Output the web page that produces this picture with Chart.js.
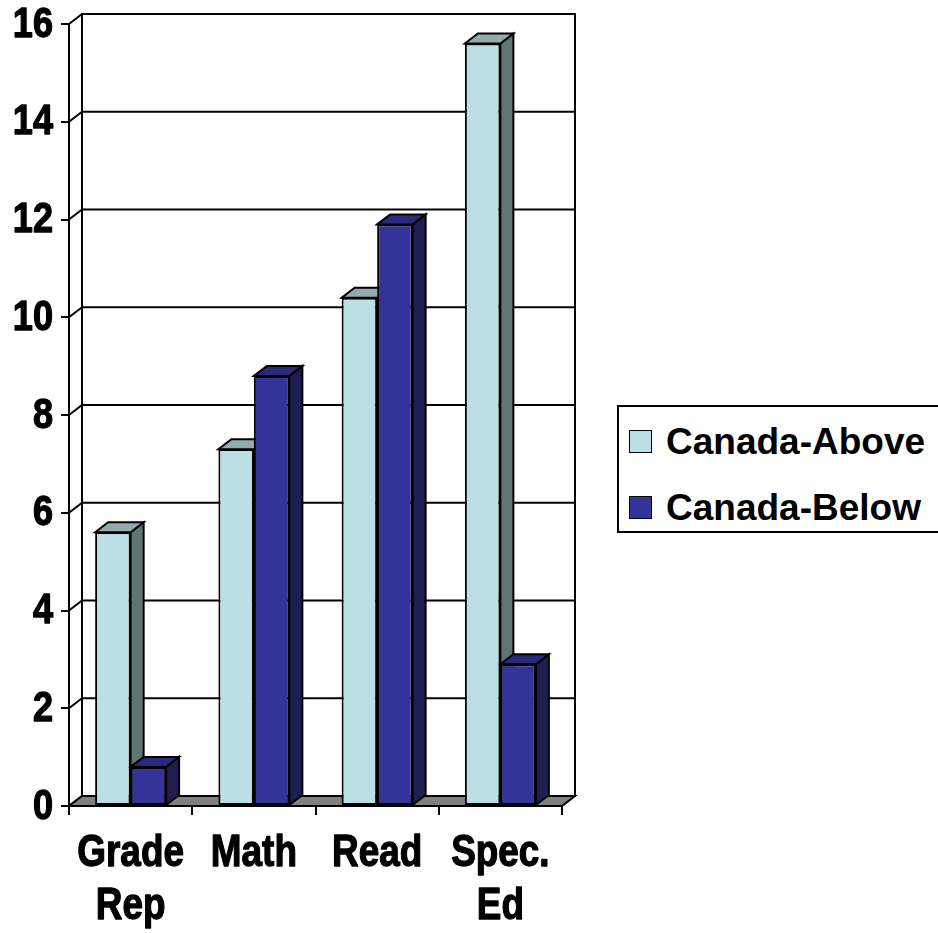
<!DOCTYPE html>
<html>
<head>
<meta charset="utf-8">
<script src="https://cdn.jsdelivr.net/npm/chart.js@4"></script>
<style>
  html, body { margin: 0; padding: 0; background: #fff; overflow: hidden; }
  #wrap { position: relative; width: 938px; height: 933px; }
  #legend { position: absolute; left: 617px; top: 405px; width: 340px; height: 128px;
            border: 2px solid #000; box-sizing: border-box; background: #fff;
            font: bold 37px "Liberation Sans", Arial, sans-serif; color: #000; }
  .item { position: absolute; left: 10px; height: 40px; line-height: 40px; white-space: nowrap; }
  .sw { position: absolute; left: 0; top: 8px; width: 21px; height: 21px; border: 1.5px solid #000; }
  .lt { position: absolute; left: 37px; top: 0; }
</style>
</head>
<body>
<div id="wrap">
  <canvas id="c" width="938" height="933"></canvas>
  <div id="legend"></div>
</div>
<script>
// ---- data ----
const categories = [['Grade', 'Rep'], 'Math', 'Read', ['Spec.', 'Ed']];
const seriesNames = ['Canada-Above', 'Canada-Below'];
const canadaAbove = [5.6, 7.3, 10.4, 15.6];
const canadaBelow = [0.8, 8.8, 11.9, 2.9];
const yTicks = [0, 2, 4, 6, 8, 10, 12, 14, 16];

// ---- styles ----
const frontColors = ['#BBE0E3', '#333399'];
const faceColors = [{ top: '#92ABAE', side: '#5F7475' }, { top: '#2A2A7C', side: '#1E1E50' }];
const depth = { dx: 13, dy: -10 };
const fontFam = '"Liberation Sans", Arial, sans-serif';
const yLabelStyle = { size: 42, squeeze: 0.86, gap: 16 };
const xLabelStyle = { size: 45, squeeze: 0.82, lineHeight: 53, gap: 21 };

function poly(ctx, pts, fill) {
  ctx.beginPath();
  ctx.moveTo(pts[0][0], pts[0][1]);
  for (let i = 1; i < pts.length; i++) ctx.lineTo(pts[i][0], pts[i][1]);
  ctx.closePath();
  if (fill) { ctx.fillStyle = fill; ctx.fill(); }
  ctx.stroke();
}
function line(ctx, x1, y1, x2, y2) {
  ctx.beginPath(); ctx.moveTo(x1, y1); ctx.lineTo(x2, y2); ctx.stroke();
}
function squeezedText(ctx, text, x, y, k) {
  ctx.save();
  ctx.translate(x, y);
  ctx.scale(k, 1);
  ctx.fillText(text, 0, 0);
  ctx.strokeText(text, 0, 0);
  ctx.restore();
}

const threeD = {
  id: 'threeD',
  beforeDatasetsDraw(chart) {
    const { ctx, chartArea: a } = chart;
    const ys = chart.scales.y;
    const { dx, dy } = depth;
    ctx.save();
    ctx.lineWidth = 2;
    ctx.strokeStyle = '#000';
    // back wall
    ctx.fillStyle = '#fff';
    ctx.fillRect(a.left + dx, a.top + dy, a.right - a.left, a.bottom - a.top);
    ctx.strokeRect(a.left + dx, a.top + dy, a.right - a.left, a.bottom - a.top);
    // gridlines on back wall + side wall diagonals
    ys.ticks.forEach(t => {
      const py = ys.getPixelForValue(t.value);
      line(ctx, a.left + dx, py + dy, a.right + dx, py + dy);
      line(ctx, a.left, py, a.left + dx, py + dy);
    });
    // floor
    poly(ctx, [[a.left, a.bottom], [a.right, a.bottom], [a.right + dx, a.bottom + dy], [a.left + dx, a.bottom + dy]], '#808080');
    // bar side and top faces
    const metas = chart.getSortedVisibleDatasetMetas();
    const n = chart.data.labels.length;
    for (let i = 0; i < n; i++) {
      metas.forEach(m => {
        const el = m.data[i];
        if (!el) return;
        const p = el.getProps(['x', 'y', 'base', 'width'], true);
        const l = p.x - p.width / 2, r = p.x + p.width / 2, t = p.y, b = p.base;
        const fc = faceColors[m.index];
        poly(ctx, [[r, t], [r + dx, t + dy], [r + dx, b + dy], [r, b]], fc.side);
        poly(ctx, [[l, t], [l + dx, t + dy], [r + dx, t + dy], [r, t]], fc.top);
      });
    }
    ctx.restore();
  }
};

// axis labels: drawn at the scales' own tick positions, slightly condensed
const axisLabels = {
  id: 'axisLabels',
  afterDraw(chart) {
    const { ctx } = chart;
    const xs = chart.scales.x, ys = chart.scales.y;
    ctx.save();
    ctx.fillStyle = '#000';
    ctx.strokeStyle = '#000';
    ctx.lineWidth = 1.3;
    ctx.lineJoin = 'round';
    ctx.textBaseline = 'middle';
    ctx.font = 'bold ' + yLabelStyle.size + 'px ' + fontFam;
    ctx.textAlign = 'right';
    ys.ticks.forEach(t => {
      squeezedText(ctx, String(t.value), ys.right - yLabelStyle.gap, ys.getPixelForValue(t.value) + 1, yLabelStyle.squeeze);
    });
    ctx.font = 'bold ' + xLabelStyle.size + 'px ' + fontFam;
    ctx.textAlign = 'center';
    chart.data.labels.forEach((lab, i) => {
      const lines = Array.isArray(lab) ? lab : [lab];
      const px = xs.getPixelForTick(i);
      lines.forEach((ln, k) => {
        const py = xs.top + xLabelStyle.gap + xLabelStyle.lineHeight * (k + 0.5);
        squeezedText(ctx, ln, px, py, xLabelStyle.squeeze);
      });
    });
    ctx.restore();
  }
};

const chart = new Chart(document.getElementById('c'), {
  type: 'bar',
  data: {
    labels: categories,
    datasets: [
      { label: seriesNames[0], data: canadaAbove, backgroundColor: frontColors[0] },
      { label: seriesNames[1], data: canadaBelow, backgroundColor: frontColors[1] }
    ]
  },
  options: {
    responsive: false,
    animation: false,
    devicePixelRatio: 1,
    layout: { padding: { top: 24, right: 376, left: 0, bottom: 0 } },
    datasets: {
      bar: {
        borderColor: '#000', borderWidth: 2, borderSkipped: false,
        categoryPercentage: 0.576, barPercentage: 1.0, inflateAmount: 0
      }
    },
    plugins: { legend: { display: false }, tooltip: { enabled: false } },
    scales: {
      x: {
        offset: true,
        grid: { display: true, offset: true, drawOnChartArea: false, drawTicks: true, tickLength: 9, color: '#000', lineWidth: 2 },
        border: { display: true, color: '#000', width: 2 },
        ticks: { display: false, autoSkip: false },
        afterFit(s) { s.height = 127; }
      },
      y: {
        min: 0, max: 16,
        afterBuildTicks(s) { s.ticks = yTicks.map(v => ({ value: v })); },
        grid: { display: true, drawOnChartArea: false, drawTicks: true, tickLength: 8, color: '#000', lineWidth: 2 },
        border: { display: true, color: '#000', width: 2 },
        ticks: { display: false },
        afterFit(s) { s.width = 69; }
      }
    }
  },
  plugins: [threeD, axisLabels]
});

// HTML legend built from the datasets
const lg = document.getElementById('legend');
const rowTops = [15, 81];
chart.data.datasets.forEach((ds, i) => {
  const it = document.createElement('div');
  it.className = 'item';
  it.style.top = rowTops[i] + 'px';
  const sw = document.createElement('span');
  sw.className = 'sw';
  sw.style.background = ds.backgroundColor;
  const tx = document.createElement('span');
  tx.className = 'lt';
  tx.textContent = ds.label;
  it.appendChild(sw); it.appendChild(tx);
  lg.appendChild(it);
});
</script>
</body>
</html>
